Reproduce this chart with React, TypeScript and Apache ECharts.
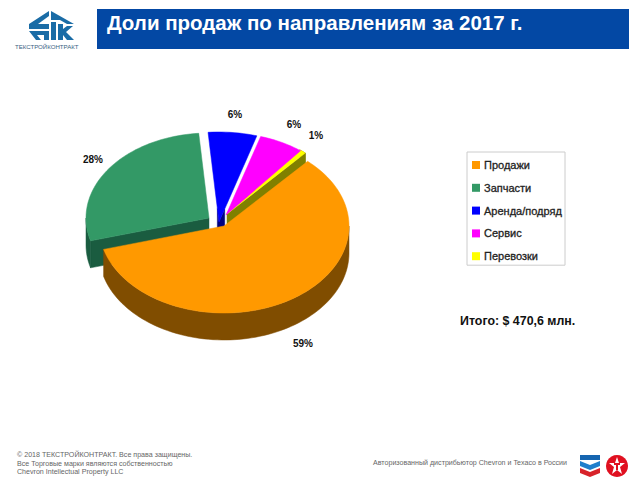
import React, { useEffect, useRef } from "react";
import * as echarts from "echarts";

const categories = ["Продажи", "Запчасти", "Аренда/подряд", "Сервис", "Перевозки"];
const values = [59, 28, 6, 6, 1];
const percentLabels = ["59%", "28%", "6%", "6%", "1%"];
const colors = ["#FF9900", "#339966", "#0000FF", "#FF00FF", "#FFFF00"];
const wallColors = ["#804D00", "#1A5C40", "#000080", "#800080", "#808000"];
const titleText = "Доли продаж по направлениям за 2017 г.";
const totalText = "Итого: $ 470,6 млн.";
const footerLeft = [
  "© 2018 ТЕКСТРОЙКОНТРАКТ. Все права защищены.",
  "Все Торговые марки являются собственностью",
  "Chevron Intellectual Property LLC",
];
const footerRight = "Авторизованный дистрибьютор Chevron и Texaco в России";
const logoCaption = "ТЕКСТРОЙКОНТРАКТ";

const START_ANGLE = 48;
const DEPTH = 27;
// per-slice apex and radii: the source is a perspective drawing with exploded slices
const geom: { cx: number; cy: number; rx: number; ry: number }[] = [
  { cx: 224, cy: 226, rx: 125, ry: 87 },
  { cx: 209, cy: 218, rx: 123, ry: 85 },
  { cx: 219, cy: 222, rx: 131, ry: 90 },
  { cx: 226, cy: 215, rx: 120, ry: 82 },
  { cx: 227, cy: 214, rx: 117, ry: 82 },
];
// how much of each cut face (start edge, end edge) shows under the slice
const faces: [number, number][] = [[0, 0], [1, 0], [0.15, 0.15], [0, 0], [0, 1]];
const labelPos: [number, number][] = [[303, 343], [93, 159], [235, 114], [294, 124], [316, 135]];

const total = values.reduce((a, b) => a + b, 0);

function sliceAngles(idx: number) {
  let a = START_ANGLE;
  for (let i = 0; i < idx; i++) a -= (values[i] / total) * 360;
  return [a, a - (values[idx] / total) * 360];
}

function renderSlice(idx: number) {
  return (_params: any, api: any) => {
    const v = api.value(0);
    if (!(v > 0)) return { type: "group", children: [] };
    const [a0, a1] = sliceAngles(idx);
    const { cx, cy, rx, ry } = geom[idx];
    const rim = (deg: number, drop = 0): [number, number] => {
      const t = (deg * Math.PI) / 180;
      return [cx + rx * Math.cos(t), cy - ry * Math.sin(t) + drop];
    };
    const arc = (from: number, to: number, drop = 0) => {
      const n = Math.max(2, Math.ceil(Math.abs(from - to) / 2));
      const pts: [number, number][] = [];
      for (let i = 0; i <= n; i++) pts.push(rim(from + ((to - from) * i) / n, drop));
      return pts;
    };
    const base = 2 * (5 - idx);
    const wall = wallColors[idx];
    const children: any[] = [];
    const shape = (points: [number, number][], fill: string, z2: number) => ({
      type: "polygon",
      shape: { points },
      style: { fill, stroke: fill, lineWidth: 0.5 },
      z2,
    });
    const face = (deg: number, f: number) => {
      if (f <= 0) return;
      const p = rim(deg);
      const q: [number, number] = [cx + (p[0] - cx) * f, cy + (p[1] - cy) * f];
      children.push(shape([[cx, cy], q, [q[0], q[1] + DEPTH], [cx, cy + DEPTH]], wall, base));
    };
    face(a0, faces[idx][0]);
    face(a1, faces[idx][1]);
    // outer wall: the part of the rim that faces the viewer
    const hi = Math.min(a0, 0);
    const lo = Math.max(a1, -180);
    if (hi > lo) children.push(shape([...arc(hi, lo), ...arc(lo, hi, DEPTH)], wall, base));
    if (idx === 4) children.push(shape([...arc(a0, a1), ...arc(a1, a0, DEPTH)], wall, base));
    children.push(shape([[cx, cy], ...arc(a0, a1)], colors[idx], base + 1));
    children.push({
      type: "text",
      z2: 20,
      style: {
        x: labelPos[idx][0],
        y: labelPos[idx][1],
        text: percentLabels[idx],
        fill: "#111111",
        font: "bold 10px 'Liberation Sans'",
        align: "center",
        verticalAlign: "middle",
      },
    });
    return { type: "group", children };
  };
}

const footerText = (text: string, x: number, y: number, size: number) => ({
  type: "text",
  x,
  y,
  style: { text, fill: "#666666", font: `${size}px 'Liberation Sans'`, verticalAlign: "middle" },
});

function poly(points: number[][], fill: string) {
  return { type: "polygon", shape: { points }, style: { fill } };
}

const LOGO = "#1A6CA6";
const graphics: any[] = [
  { type: "rect", shape: { x: 97, y: 9, width: 532, height: 40 }, style: { fill: "#0348A4" }, z: -1 },
  // company mark
  poly([[29, 24], [49, 11], [49, 16], [38, 24], [49, 24], [49, 29], [29, 29]], LOGO),
  poly([[29, 31], [49, 31], [49, 40], [44, 40], [44, 35], [37, 35], [41, 40], [36, 40]], LOGO),
  poly([[51, 11], [74, 24], [67, 24], [60, 20], [51, 20]], LOGO),
  poly([[51, 22], [56, 22], [56, 40], [51, 40]], LOGO),
  poly([[58, 24], [63, 24], [63, 29], [67, 26], [73, 26], [66, 32], [74, 40], [67, 40], [63, 35], [63, 40], [58, 40]], LOGO),
  {
    type: "text",
    x: 15,
    y: 46,
    style: { text: logoCaption, fill: "#39627F", font: "6.1px 'Liberation Sans'", verticalAlign: "middle" },
  },
  {
    type: "text",
    x: 460,
    y: 321,
    style: { text: totalText, fill: "#111111", font: "bold 12.4px 'Liberation Sans'", verticalAlign: "middle" },
  },
  footerText(footerLeft[0], 17, 455, 7.1),
  footerText(footerLeft[1], 17, 464, 7.1),
  footerText(footerLeft[2], 17, 472, 7.1),
  footerText(footerRight, 373, 463, 7.1),
  // Chevron
  { type: "rect", shape: { x: 580, y: 455, width: 20, height: 5 }, style: { fill: "#1565B0" } },
  poly([[580, 461], [590, 465], [600, 461], [600, 466], [590, 470], [580, 466]], "#1F7FCC"),
  poly([[580, 468], [590, 472], [600, 468], [600, 473], [590, 477], [580, 473]], "#D8232A"),
  // Texaco
  { type: "circle", shape: { cx: 617, cy: 466, r: 11 }, style: { fill: "#E01020" } },
  poly([[617, 457], [619, 463], [625, 463], [620, 467], [622, 474], [617, 470], [612, 474], [614, 467], [609, 463], [615, 463]], "#FFFFFF"),
  poly([[614, 463], [620, 463], [620, 465], [618, 465], [618, 470], [616, 470], [616, 465], [614, 465]], "#E01020"),
];

export default function App() {
  const ref = useRef<HTMLDivElement>(null);
  useEffect(() => {
    const chart = echarts.init(ref.current!, undefined, { renderer: "svg" });
    chart.setOption({
      animation: false,
      title: {
        text: titleText,
        left: 107,
        top: 12,
        padding: 0,
        textStyle: { color: "#FFFFFF", fontFamily: "Liberation Sans", fontWeight: "bold", fontSize: 20.5 },
      },
      legend: {
        orient: "vertical",
        left: 467,
        top: 152,
        padding: [7, 3, 3, 5],
        itemGap: 10.8,
        itemWidth: 8,
        itemHeight: 8,
        icon: "rect",
        borderColor: "#CCCCCC",
        borderWidth: 1,
        data: categories,
        textStyle: {
          color: "#222222",
          fontFamily: "Liberation Sans",
          fontSize: 11,
          padding: [0, 0, 0, -1],
          lineHeight: 12,
          textBorderColor: "#222222",
          textBorderWidth: 0.3,
        },
      },
      graphic: graphics,
      series: categories.map((name, i) => ({
        type: "custom",
        name,
        coordinateSystem: "none",
        data: [[values[i]]],
        itemStyle: { color: colors[i] },
        renderItem: renderSlice(i),
      })),
    });
    return () => chart.dispose();
  }, []);
  return <div ref={ref} style={{ width: 640, height: 480, position: "fixed", left: 0, top: 0, background: "#fff" }} />;
}
